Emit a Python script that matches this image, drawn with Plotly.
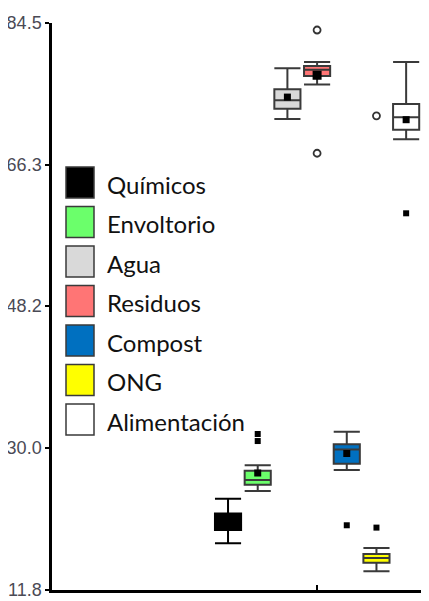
import plotly.graph_objects as go

categories = ["Químicos", "Envoltorio", "Agua", "Residuos", "Compost", "ONG", "Alimentación"]
colors = ["#000000", "#6BFF6B", "#D9D9D9", "#FF7575", "#0070C0", "#FFFF00", "#FFFFFF"]
line_colors = ["#000000", "#3a3a3a", "#3a3a3a", "#3a3a3a", "#3a3a3a", "#3a3a3a", "#3a3a3a"]

lower_fence = [17.8, 24.5, 72.2, 76.6, 27.2, 14.2, 69.6]
q1_vals = [19.5, 25.3, 73.5, 77.7, 28.0, 15.3, 70.8]
median_vals = [20.5, 25.9, 74.6, 78.5, 29.8, 15.9, 72.4]
q3_vals = [21.6, 27.1, 76.0, 79.0, 30.5, 16.4, 74.1]
upper_fence = [23.5, 27.8, 78.7, 79.5, 32.1, 17.2, 79.5]

mean_cats = ["Envoltorio", "Agua", "Compost", "Alimentación"]
mean_vals = [26.8, 75.0, 29.3, 72.1]
big_mean_cats = ["Residuos"]
big_mean_vals = [77.8]

filled_out_cats = ["Envoltorio", "Envoltorio", "Compost", "ONG", "Alimentación"]
filled_out_vals = [31.8, 30.9, 20.1, 19.8, 60.1]
open_out_cats = ["Residuos", "Residuos", "ONG"]
open_out_vals = [83.6, 67.8, 72.6]

y_ticks = [11.8, 30.0, 48.2, 66.3, 84.5]
y_tick_labels = ["11.8", "30.0", "48.2", "66.3", "84.5"]

fig = go.Figure()
for i, cat in enumerate(categories):
    fig.add_trace(go.Box(
        x=[cat], q1=[q1_vals[i]], median=[median_vals[i]], q3=[q3_vals[i]],
        lowerfence=[lower_fence[i]], upperfence=[upper_fence[i]],
        fillcolor=colors[i], line=dict(color=line_colors[i], width=2),
        whiskerwidth=1, name=cat, showlegend=False,
    ))

fig.add_trace(go.Scatter(x=mean_cats, y=mean_vals, mode="markers",
                         marker=dict(symbol="square", size=7, color="black"), showlegend=False))
fig.add_trace(go.Scatter(x=big_mean_cats, y=big_mean_vals, mode="markers",
                         marker=dict(symbol="square", size=9, color="black"), showlegend=False))
fig.add_trace(go.Scatter(x=filled_out_cats, y=filled_out_vals, mode="markers",
                         marker=dict(symbol="square", size=6, color="black"), showlegend=False))
fig.add_trace(go.Scatter(x=open_out_cats, y=open_out_vals, mode="markers",
                         marker=dict(symbol="circle", size=7, color="white",
                                     line=dict(color="#333333", width=1.8)), showlegend=False))

# page body has an 8px margin; compensate so the plot area sits at the reference pixels
OFF = 8
L, R, T, B = 52, 429, 23, 590
W, H = R - L, B - T
def px_x(px):
    return (px - L) / W
def px_y(py):
    return (B - py) / H

shapes = []
annotations = []
for i, cat in enumerate(categories):
    top = 167 + i * 39.5
    shapes.append(dict(type="rect", xref="paper", yref="paper",
                       x0=px_x(66), x1=px_x(94), y0=px_y(top + 31), y1=px_y(top),
                       fillcolor=colors[i], line=dict(color="#3a3a3a", width=1.5)))
    annotations.append(dict(text=cat, xref="paper", yref="paper",
                            x=px_x(105), y=px_y(top + 17), xanchor="left", yanchor="middle",
                            showarrow=False, font=dict(family="Lato", size=24, color="#111111")))

fig.update_layout(
    width=429 - OFF, height=601 - OFF,
    margin=dict(l=L - OFF, r=0, t=T - OFF, b=601 - B),
    plot_bgcolor="white", paper_bgcolor="white",
    boxgap=0.12, boxgroupgap=0, showlegend=False,
    shapes=shapes, annotations=annotations,
    xaxis=dict(type="category", categoryorder="array", categoryarray=categories,
               range=[-5.93, 6.77], showgrid=False, zeroline=False,
               showline=True, linecolor="black", linewidth=2.5,
               tickvals=["Residuos"], ticktext=[""], ticks="inside", ticklen=5,
               tickcolor="black", tickwidth=2),
    yaxis=dict(range=[11.8, 84.5], showgrid=False, zeroline=False,
               showline=True, linecolor="black", linewidth=2.5,
               tickvals=y_ticks, ticktext=y_tick_labels, ticks="outside", ticklen=4,
               tickcolor="black", tickwidth=2,
               tickfont=dict(family="Liberation Sans", size=18, color="#4a4a55")),
)

fig.write_html("out.html")
